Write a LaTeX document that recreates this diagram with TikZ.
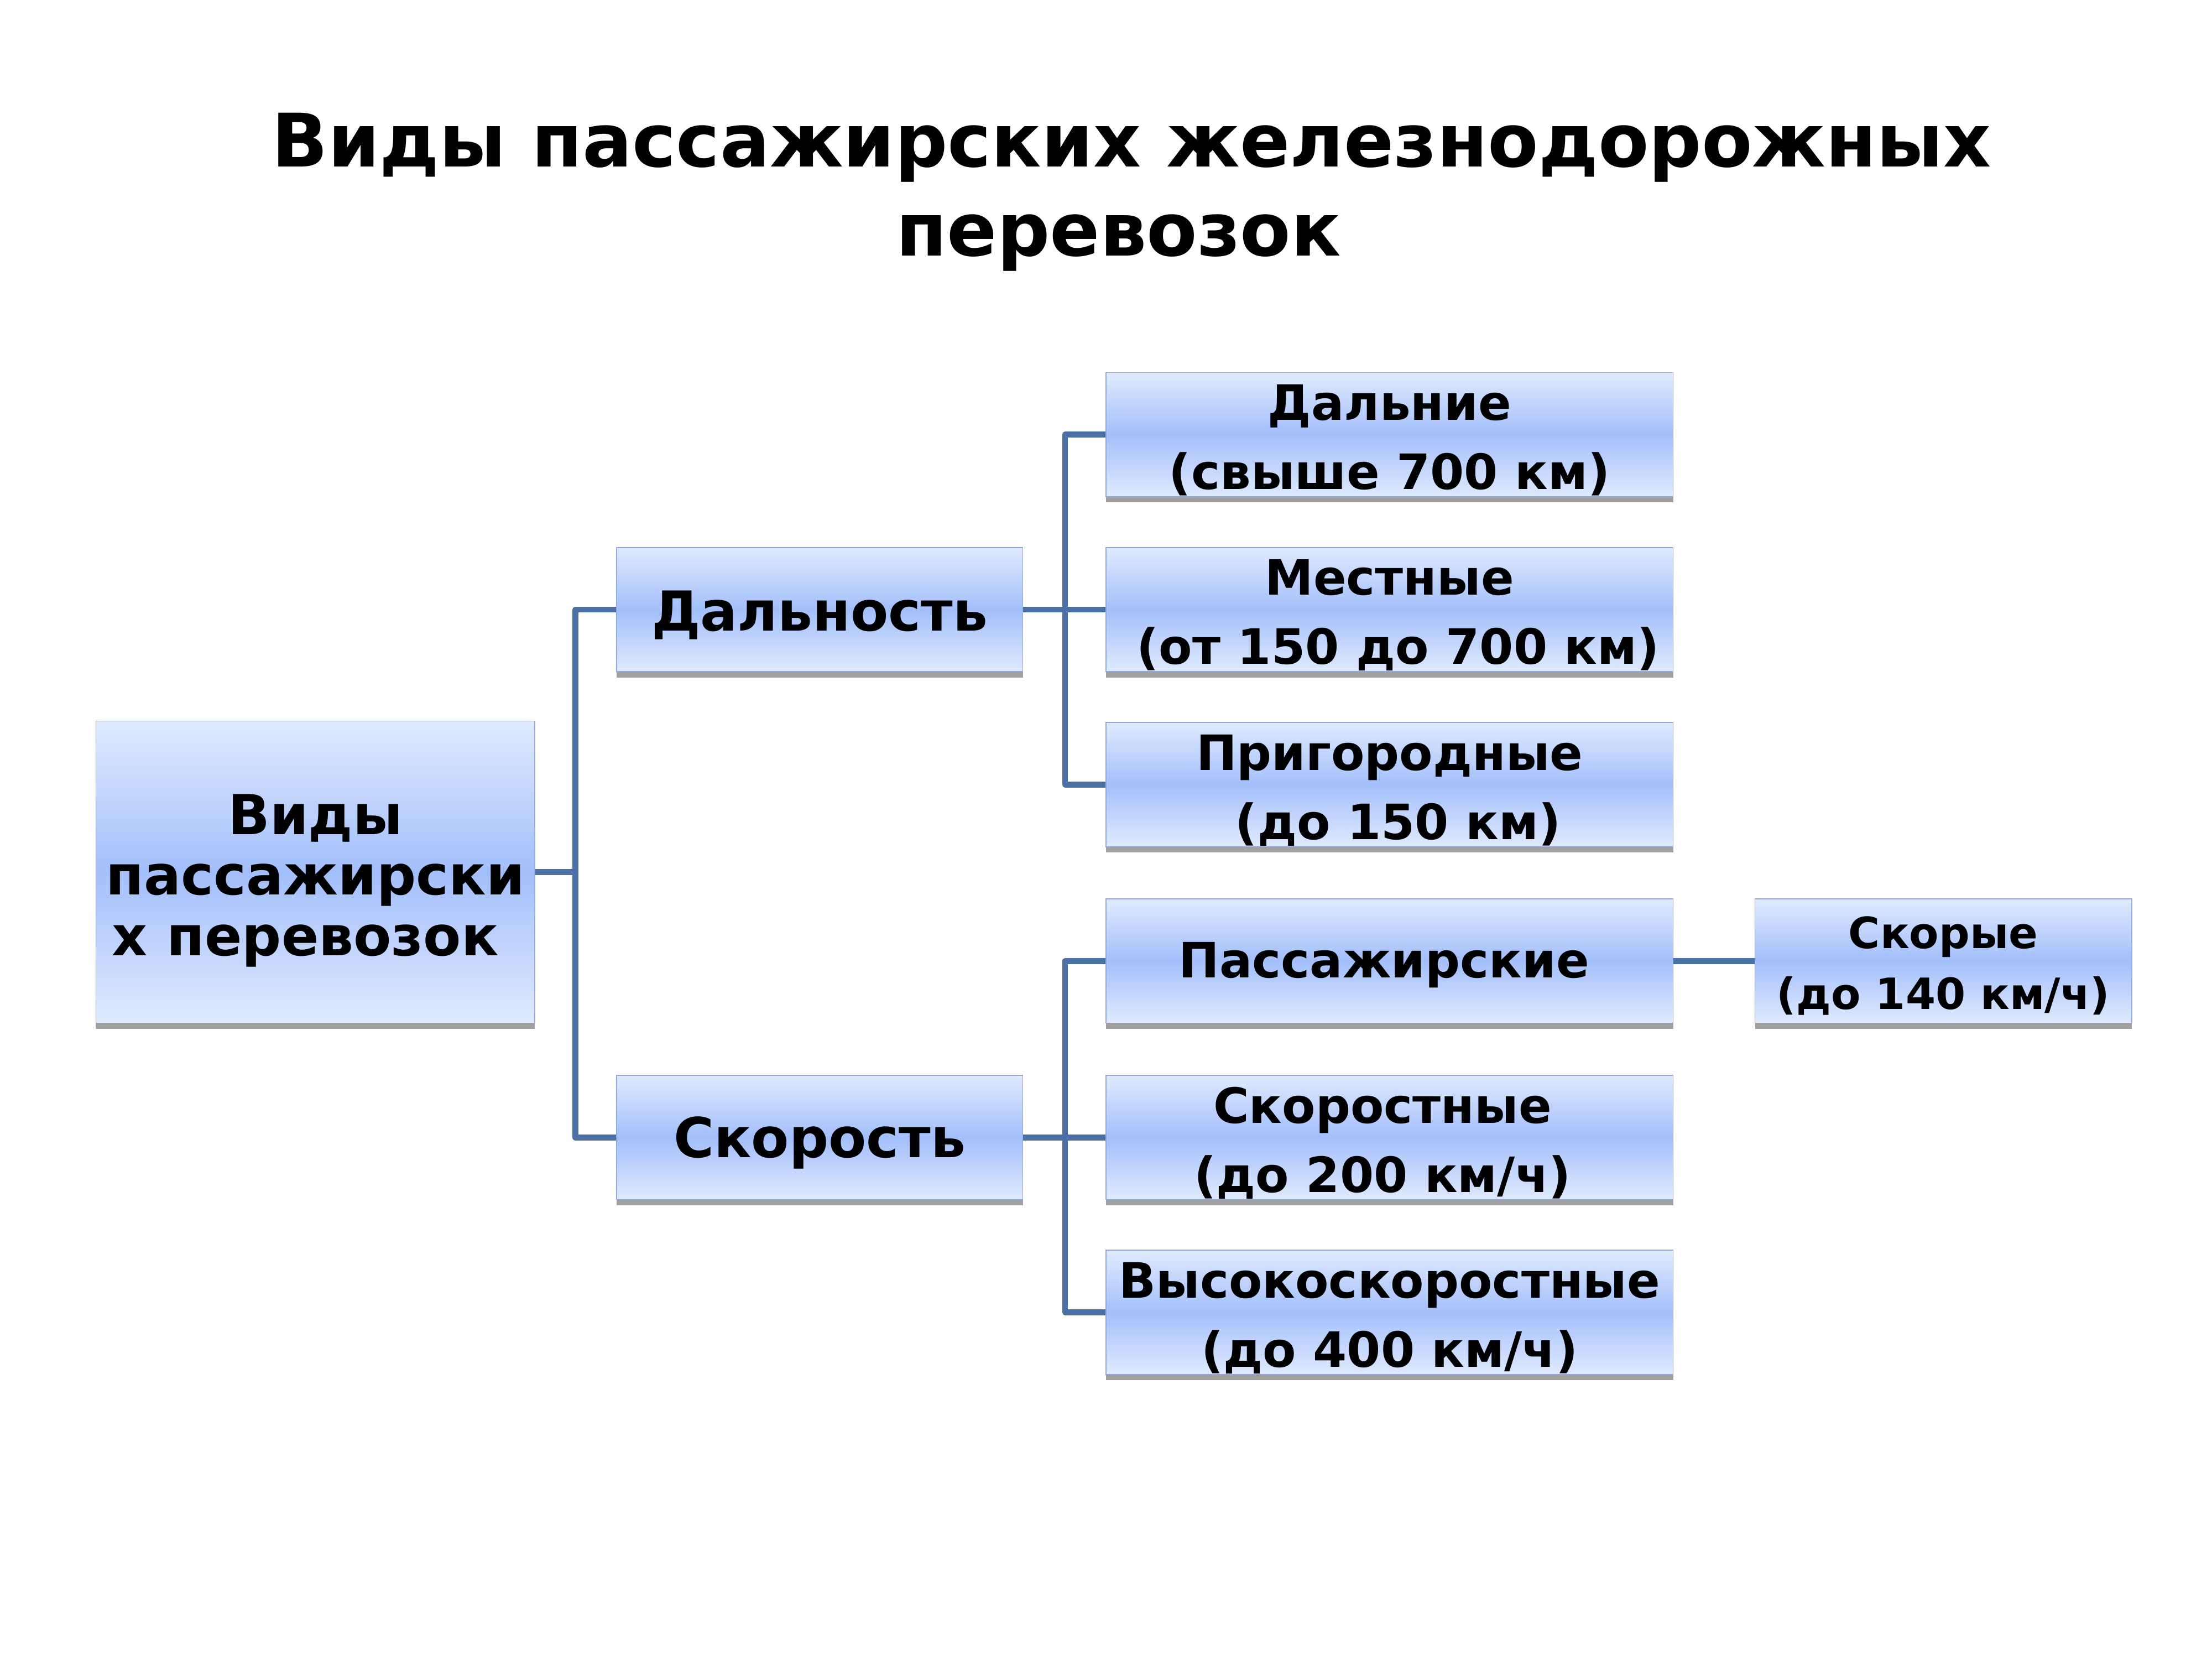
\documentclass[tikz,border=0pt]{standalone}
\usepackage{fontspec}
\setmainfont{DejaVu Sans}
\usetikzlibrary{shadows}
\definecolor{gtop}{HTML}{DFEAFE}
\definecolor{gmid}{HTML}{A3BFFB}
\definecolor{boxline}{HTML}{90AADA}
\definecolor{conn}{HTML}{4A70A6}
\definecolor{shade}{HTML}{A0A0A0}
\newcommand{\lowr}[2][4pt]{\raisebox{-#1}[\height][\depth]{#2}}
\tikzset{
  box/.style={draw=boxline, line width=0.7pt, top color=gtop, bottom color=gtop, middle color=gmid,
    inner sep=0pt, align=center, anchor=center, text=black,
    drop shadow={shadow xshift=0pt, shadow yshift=-4pt, fill=shade, opacity=1}},
  conline/.style={draw=conn, line width=4.2pt, line join=round},
}
\begin{document}
\begin{tikzpicture}[x=1pt,y=-1pt]
\useasboundingbox (0,0) rectangle (1568,1176);
\node[align=center, font=\fontsize{52.3}{63}\selectfont\bfseries] (title) at (802,136)
  {Виды пассажирских железнодорожных\\перевозок\hspace*{18pt}};
% root
\node[box, minimum width=311pt, minimum height=214pt, font=\fontsize{39}{43}\selectfont\bfseries] (root) at (223.5,618)
  {\lowr[6pt]{Виды}\\\lowr[6pt]{пассажирски}\\\lowr[6pt]{х перевозок}\hspace*{14pt}};
\node[box, minimum width=288pt, minimum height=88pt, font=\fontsize{39}{43}\selectfont\bfseries] (dal) at (581,432) {\lowr{Дальность}};
\node[box, minimum width=288pt, minimum height=88pt, font=\fontsize{39}{43}\selectfont\bfseries] (sk) at (581,806) {\lowr{Скорость}};
\tikzset{rbox/.style={box, minimum width=402pt, minimum height=88pt, font=\fontsize{34.5}{49}\selectfont\bfseries}}
\node[rbox] (d1) at (985,308) {\lowr{Дальние}\\\lowr{(свыше 700 км)}};
\node[rbox] (d2) at (985,432) {\lowr{Местные}\\\lowr{\ (от 150 до 700 км)}};
\node[rbox] (d3) at (985,556) {\lowr{Пригородные}\\\lowr{\ (до 150 км)}};
\node[rbox] (s1) at (985,681) {\lowr[3pt]{Пассажирские}\hspace*{8pt}};
\node[rbox] (s2) at (985,806) {\lowr{Скоростные}\hspace*{10pt}\\\lowr{(до 200 км/ч)}\hspace*{10pt}};
\node[rbox] (s3) at (985,930) {\lowr{Высокоскоростные}\\\lowr{(до 400 км/ч)}};
\node[box, minimum width=267pt, minimum height=88pt, font=\fontsize{30.5}{43}\selectfont\bfseries] (s11) at (1377.5,681) {\lowr[3.5pt]{Скорые}\\\lowr[3.5pt]{(до 140 км/ч)}};
% connectors
\draw[conline] (root.east) -- (408,618);
\draw[conline] (dal.west) -- (408,432) -- (408,806) -- (sk.west);
\draw[conline] (dal.east) -- (d2.west);
\draw[conline] (d1.west) -- (755,308) -- (755,556) -- (d3.west);
\draw[conline] (sk.east) -- (s2.west);
\draw[conline] (s1.west) -- (755,681) -- (755,930) -- (s3.west);
\draw[conline] (s1.east) -- (s11.west);
\end{tikzpicture}
\end{document}
